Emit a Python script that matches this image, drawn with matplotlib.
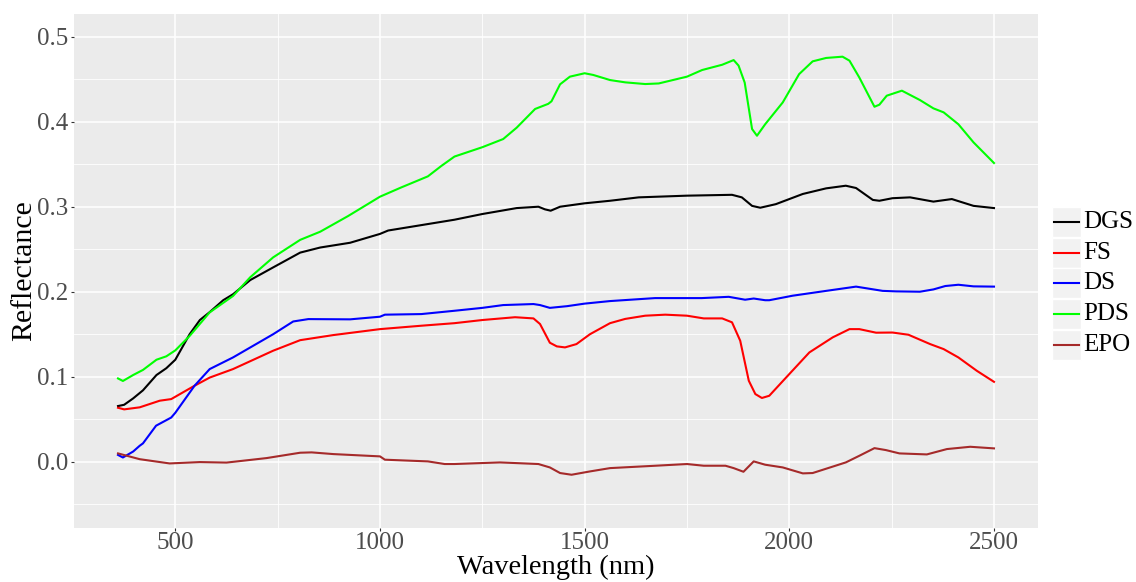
import matplotlib
matplotlib.use("Agg")
import matplotlib.pyplot as plt
from matplotlib.patches import Rectangle
from matplotlib.lines import Line2D

# ---- data ----
dgs_wl = [360, 375, 397, 421, 454, 478, 500, 535, 560, 584, 617, 641, 683, 739, 805, 854, 927,
          1000, 1020, 1117, 1182, 1250, 1334, 1387, 1403, 1417, 1440, 1500, 1562, 1632, 1750,
          1860, 1884, 1909, 1929, 1967, 2033, 2090, 2138, 2163, 2204, 2220, 2252, 2295, 2352,
          2397, 2450, 2500]
dgs_r = [0.0655, 0.067, 0.0745, 0.084, 0.102, 0.110, 0.120, 0.150, 0.1667, 0.176, 0.19, 0.197,
         0.2137, 0.2286, 0.246, 0.252, 0.2576, 0.268, 0.272, 0.2796, 0.2847, 0.2914, 0.2984,
         0.300, 0.2969, 0.2953, 0.300, 0.304, 0.307, 0.311, 0.313, 0.314, 0.311, 0.301, 0.2988,
         0.303, 0.315, 0.3216, 0.3247, 0.322, 0.308, 0.307, 0.310, 0.311, 0.306, 0.309, 0.301,
         0.2984]

fs_wl = [360, 375, 413, 462, 490, 547, 584, 641, 739, 805, 886, 1000, 1101, 1182, 1250, 1330,
         1375, 1391, 1415, 1432, 1452, 1480, 1513, 1562, 1599, 1648, 1697, 1750, 1791, 1836,
         1860, 1880, 1901, 1917, 1933, 1951, 1992, 2049, 2106, 2147, 2171, 2212, 2252, 2291,
         2344, 2377, 2413, 2458, 2500]
fs_r = [0.0635, 0.0616, 0.064, 0.0718, 0.0737, 0.0894, 0.099, 0.109, 0.1306, 0.143, 0.149,
        0.156, 0.160, 0.163, 0.1667, 0.170, 0.1686, 0.162, 0.140, 0.1357, 0.1345, 0.1384, 0.150,
        0.163, 0.168, 0.1718, 0.173, 0.1718, 0.1686, 0.1686, 0.164, 0.1424, 0.0953, 0.0796,
        0.075, 0.0776, 0.099, 0.1286, 0.1463, 0.156, 0.156, 0.1518, 0.152, 0.1494, 0.1384,
        0.1325, 0.1227, 0.107, 0.094]

ds_wl = [360, 372, 397, 413, 421, 453, 490, 500, 547, 584, 641, 739, 788, 825, 927, 1000, 1012,
         1101, 1182, 1250, 1301, 1375, 1391, 1415, 1457, 1500, 1562, 1672, 1786, 1852, 1892,
         1913, 1941, 1951, 2008, 2090, 2163, 2228, 2261, 2319, 2352, 2381, 2413, 2450, 2500]
ds_r = [0.008, 0.005, 0.012, 0.0188, 0.0216, 0.0424, 0.052, 0.0576, 0.0894, 0.109, 0.1227,
        0.150, 0.165, 0.1678, 0.1675, 0.1706, 0.173, 0.1737, 0.1776, 0.181, 0.1843, 0.1855,
        0.1843, 0.181, 0.183, 0.186, 0.189, 0.1925, 0.1925, 0.194, 0.1906, 0.192, 0.190, 0.190,
        0.1953, 0.201, 0.206, 0.201, 0.2004, 0.200, 0.2027, 0.2067, 0.2082, 0.2063, 0.206]

pds_wl = [360, 372, 397, 421, 454, 478, 500, 535, 584, 641, 683, 739, 805, 854, 922, 1000, 1052,
          1117, 1150, 1182, 1250, 1301, 1334, 1379, 1411, 1419, 1440, 1464, 1500, 1521, 1562,
          1599, 1648, 1681, 1750, 1787, 1836, 1864, 1876, 1891, 1909, 1921, 1941, 1951, 1984,
          2024, 2057, 2090, 2130, 2147, 2171, 2208, 2220, 2238, 2275, 2319, 2352, 2377, 2413,
          2450, 2500]
pds_r = [0.098, 0.095, 0.102, 0.108, 0.120, 0.124, 0.131, 0.148, 0.1757, 0.195, 0.217, 0.2404,
         0.261, 0.2706, 0.289, 0.3118, 0.3227, 0.3357, 0.348, 0.359, 0.370, 0.3796, 0.393,
         0.415, 0.421, 0.424, 0.444, 0.453, 0.457, 0.455, 0.449, 0.4463, 0.4443, 0.445, 0.453,
         0.4608, 0.467, 0.4725, 0.466, 0.446, 0.3914, 0.3835, 0.397, 0.403, 0.4227, 0.456,
         0.471, 0.475, 0.4765, 0.4718, 0.452, 0.4176, 0.42, 0.4306, 0.4365, 0.4255, 0.4157,
         0.411, 0.397, 0.3757, 0.3514]

epo_wl = [360, 413, 486, 560, 625, 723, 805, 833, 886, 1000, 1012, 1117, 1158, 1182, 1293, 1387,
          1415, 1440, 1468, 1513, 1562, 1673, 1750, 1791, 1844, 1864, 1888, 1913, 1941, 1984,
          2033, 2057, 2138, 2171, 2208, 2236, 2269, 2336, 2385, 2442, 2500]
epo_r = [0.0098, 0.003, -0.002, -0.0004, -0.001, 0.0043, 0.0106, 0.011, 0.009, 0.0063, 0.0024,
         0.0004, -0.0027, -0.0027, -0.0008, -0.0027, -0.0067, -0.0133, -0.0153, -0.0114,
         -0.0075, -0.0047, -0.0027, -0.0047, -0.0047, -0.0075, -0.0118, 0.0004, -0.0035,
         -0.0067, -0.0137, -0.0133, -0.0008, 0.007, 0.016, 0.0137, 0.0098, 0.0086, 0.0149,
         0.0176, 0.0157]

series_names = ["DGS", "FS", "DS", "PDS", "EPO"]
series_colors = ["#000000", "#FF0000", "#0000FF", "#00FF00", "#A52A2A"]
series_data = [(dgs_wl, dgs_r), (fs_wl, fs_r), (ds_wl, ds_r), (pds_wl, pds_r), (epo_wl, epo_r)]

x_ticks = [500, 1000, 1500, 2000, 2500]
y_ticks = [0.0, 0.1, 0.2, 0.3, 0.4, 0.5]

# ---- figure ----
W, H = 1136, 582
fig = plt.figure(figsize=(W / 100, H / 100), dpi=100)
serif = ["Liberation Serif", "DejaVu Serif"]

# panel in pixel coords
l, r, t, b = 74, 1037.7, 14, 527.7
ax = fig.add_axes([l / W, 1 - b / H, (r - l) / W, (b - t) / H])
ax.set_facecolor("#EBEBEB")
for s in ax.spines.values():
    s.set_visible(False)

ax.set_xlim(252.5, 2606.8)
ax.set_ylim(-0.0776, 0.5267)

ax.set_xticks(x_ticks)
ax.set_xticks([750, 1250, 1750, 2250], minor=True)
ax.set_yticks(y_ticks)
ax.set_yticks([-0.05, 0.05, 0.15, 0.25, 0.35, 0.45], minor=True)
ax.grid(which="major", color="white", linewidth=1.1)
ax.grid(which="minor", color="white", linewidth=0.6)
ax.set_axisbelow(True)
ax.tick_params(which="major", length=2.2, width=0.8, color="#333333", labelcolor="#4D4D4D",
               labelsize=18, pad=2)
ax.tick_params(axis="x", which="major", pad=1)
ax.tick_params(which="minor", length=0)
ax.set_xticklabels([str(v) for v in x_ticks], fontfamily=serif)
ax.set_yticklabels([f"{v:.1f}" for v in y_ticks], fontfamily=serif)

for name, col, (wl, rv) in zip(series_names, series_colors, series_data):
    ax.plot(wl, rv, color=col, linewidth=1.5, label=name, solid_joinstyle="round")

# axis titles
fig.text((l + r) / 2 / W, 2 / H, "Wavelength (nm)", fontsize=20.5, family=serif,
         color="black", ha="center", va="bottom")
ax.set_ylabel("Reflectance", fontsize=21.5, family=serif, color="black", labelpad=0)

# ---- legend (ggplot style keys) ----
key_x0, key_w, key_h = 1052, 29, 30
key_tops = [207, 237.7, 268.4, 299.1, 329.8]
for name, col, kt in zip(series_names, series_colors, key_tops):
    fig.patches.append(Rectangle((key_x0 / W, 1 - (kt + key_h) / H), key_w / W, key_h / H,
                                 transform=fig.transFigure, facecolor="#F2F2F2",
                                 edgecolor="white", linewidth=1.0))
    yc = 1 - (kt + key_h / 2) / H
    fig.lines.append(Line2D([(key_x0 + 2) / W, (key_x0 + key_w - 2) / W], [yc, yc],
                            transform=fig.transFigure, color=col, linewidth=1.5))
    fig.text((key_x0 + key_w + 2.5) / W, yc, name, fontsize=18, family=serif,
             va="center", ha="left", color="black")

fig.savefig("out.png", dpi=100)
